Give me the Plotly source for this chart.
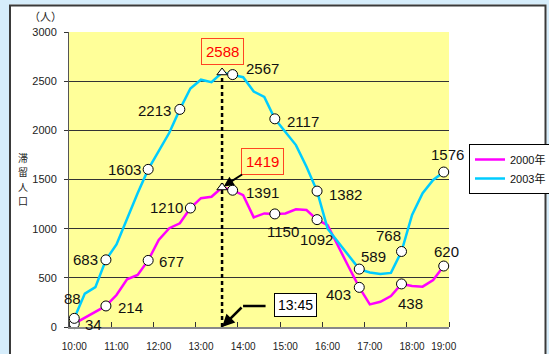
import plotly.graph_objects as go

# ---------------- data ----------------
times = ["10:00", "10:15", "10:30", "10:45", "11:00", "11:15", "11:30", "11:45",
         "12:00", "12:15", "12:30", "12:45", "13:00", "13:15", "13:30", "13:45",
         "14:00", "14:15", "14:30", "14:45", "15:00", "15:15", "15:30", "15:45",
         "16:00", "16:15", "16:30", "16:45", "17:00", "17:15", "17:30", "17:45",
         "18:00", "18:15", "18:30", "18:45"]

pop_2000 = [34, 95, 155, 214, 325, 485, 530, 677,
            885, 1005, 1055, 1210, 1310, 1325, 1419, 1391,
            1340, 1115, 1155, 1150, 1155, 1197, 1190, 1092,
            1035, 830, 610, 403, 230, 257, 315, 438,
            417, 410, 478, 620]

pop_2003 = [88, 340, 405, 683, 840, 1110, 1360, 1603,
            1790, 1975, 2213, 2425, 2515, 2490, 2588, 2567,
            2540, 2395, 2340, 2117, 1985, 1850, 1630, 1382,
            1000, 860, 720, 589, 555, 540, 550, 768,
            1140, 1360, 1495, 1576]

series_names = ["2000年", "2003年"]
tick_labels = ["10:00", "11:00", "12:00", "13:00", "14:00", "15:00",
               "16:00", "17:00", "18:00", "19:00"]
circled_2000 = [0, 3, 7, 11, 15, 19, 23, 27, 31, 35]
circled_2003 = [0, 3, 7, 10, 15, 19, 23, 27, 31, 35]
peak_label = "13:45"
y_title = "滞留人口"
unit_label = "（人）"

# ---------------- styles ----------------
MAGENTA = "#FF00FF"
CYAN = "#00CCFF"
YELLOW = "#FFFF99"
PAGE_BLUE = "#D6EDFB"
NUM_FONT = "Liberation Sans, Arial, sans-serif"
CJK_FONT = "Noto Sans CJK JP, sans-serif"
LEG_FONT = "Liberation Sans, Noto Sans CJK JP, sans-serif"

# label placement (xanchor, xshift, yshift) per circled point
lab_2000 = [("left", 9, -1), ("left", 10, -1.5), ("left", 9, -1.5), ("right", -5, 1),
            ("left", 11, -2.5), ("center", 8, -18), ("center", -1, -20),
            ("right", -6, -7), ("center", 9, -20), ("center", 2.5, 15)]
lab_2003 = [("center", -1.5, 20), ("right", -6, 0), ("right", -5, 0), ("right", -7, -1.5),
            ("left", 11, 6), ("left", 10, -3), ("left", 10, -3),
            ("left", 0, 13), ("right", 1, 16), ("center", 4, 18)]

W, H = 549, 354
L, R, T, B = 69, 100, 32, 27
PW, PH = W - L - R, H - T - B


def px(xp):
    return (xp - L) / PW


def py(yp):
    return (H - B - yp) / PH


x = list(range(len(times)))
peak_i = pop_2003.index(max(pop_2003))

fig = go.Figure()

for name, vals, color in [(series_names[0], pop_2000, MAGENTA), (series_names[1], pop_2003, CYAN)]:
    fig.add_trace(go.Scatter(x=x, y=vals, mode="lines", name=name,
                             line=dict(color=color, width=2.5), hoverinfo="skip"))

# dashed vertical line at peak
fig.add_trace(go.Scatter(x=[x[peak_i], x[peak_i]], y=[0, pop_2003[peak_i]], mode="lines",
                         line=dict(color="black", width=2.5, dash="4px,3px"),
                         showlegend=False, hoverinfo="skip"))

# circle markers
for vals, idxs in [(pop_2000, circled_2000), (pop_2003, circled_2003)]:
    fig.add_trace(go.Scatter(x=[x[i] for i in idxs], y=[vals[i] for i in idxs], mode="markers",
                             marker=dict(symbol="circle", size=10, color="white",
                                         line=dict(color="black", width=1)),
                             showlegend=False, cliponaxis=False, hoverinfo="skip"))

# triangles at peak
fig.add_trace(go.Scatter(x=[x[peak_i], x[peak_i]], y=[pop_2000[peak_i], pop_2003[peak_i]],
                         mode="markers",
                         marker=dict(symbol="triangle-up", size=9, color="white",
                                     line=dict(color="black", width=1)),
                         showlegend=False, cliponaxis=False, hoverinfo="skip"))

annotations = []
for vals, idxs, labs in [(pop_2000, circled_2000, lab_2000), (pop_2003, circled_2003, lab_2003)]:
    for i, (xa, xs, ys) in zip(idxs, labs):
        annotations.append(dict(x=x[i], y=vals[i], text=str(vals[i]), showarrow=False,
                                xanchor=xa, yanchor="middle", xshift=xs, yshift=ys,
                                font=dict(family=NUM_FONT, size=15, color="#111")))

# peak value boxes
annotations.append(dict(x=x[peak_i], y=pop_2003[peak_i], text=str(pop_2003[peak_i]),
                        showarrow=False, yshift=21, bordercolor="#FF4422", borderwidth=1,
                        borderpad=4, font=dict(family=NUM_FONT, size=15, color="#FF0000")))
annotations.append(dict(x=x[peak_i], y=pop_2000[peak_i], text=str(pop_2000[peak_i]),
                        showarrow=True, ax=40, ay=-26, arrowhead=2, arrowsize=1,
                        arrowwidth=2, arrowcolor="black", standoff=2,
                        bordercolor="#FF4422", borderwidth=1, borderpad=4,
                        font=dict(family=NUM_FONT, size=15, color="#FF0000")))
# 13:45 elbow arrow
annotations.append(dict(x=x[peak_i], y=0, text="", showarrow=True, ax=21, ay=-21,
                        arrowhead=2, arrowsize=1, arrowwidth=2.5, arrowcolor="black"))
annotations.append(dict(x=x[peak_i], y=0, text="", showarrow=True, xshift=21, yshift=21,
                        ax=24, ay=0, arrowhead=0, arrowwidth=2.5, arrowcolor="black"))
annotations.append(dict(x=x[peak_i], y=0, text=peak_label, showarrow=False,
                        xshift=73, yshift=22.5, bgcolor="white", bordercolor="black",
                        borderwidth=1, borderpad=3,
                        font=dict(family=NUM_FONT, size=14, color="black")))

# axis texts
annotations.append(dict(xref="paper", yref="paper", x=px(45), y=py(16), text=unit_label,
                        xanchor="center", yanchor="middle",
                        showarrow=False, font=dict(family=CJK_FONT, size=11, color="#222")))
# vertical (stacked) y-axis title, one character per annotation
n_ch = len(y_title)
for k, ch in enumerate(y_title):
    annotations.append(dict(xref="paper", yref="paper", x=px(22.5),
                            y=py(179 + (k - (n_ch - 1) / 2) * 14.5),
                            xanchor="center", yanchor="middle", text=ch, showarrow=False,
                            font=dict(family=CJK_FONT, size=10, color="#222")))

shapes = [
    dict(type="rect", xref="paper", yref="paper", x0=px(-2), x1=px(9), y0=py(-2), y1=py(H + 2),
         fillcolor=PAGE_BLUE, line=dict(width=0), layer="below"),
    dict(type="rect", xref="paper", yref="paper", x0=px(-2), x1=px(W + 2), y0=py(-2), y1=py(4.5),
         fillcolor=PAGE_BLUE, line=dict(width=0), layer="below"),
    dict(type="rect", xref="paper", yref="paper", x0=px(546.5), x1=px(W + 2), y0=py(-2), y1=py(H + 2),
         fillcolor=PAGE_BLUE, line=dict(width=0), layer="below"),
    dict(type="rect", xref="paper", yref="paper", x0=px(10), x1=px(545.5), y0=py(5.5), y1=py(H + 20),
         fillcolor="rgba(0,0,0,0)", line=dict(color="#3a3a3a", width=2), layer="below"),
]

tick_pos = [times.index(t) if t in times else len(times) - 1 for t in tick_labels]

fig.update_layout(
    template="none",
    width=W, height=H,
    margin=dict(l=L, r=R, t=T, b=B, pad=0, autoexpand=False),
    paper_bgcolor="white", plot_bgcolor=YELLOW,
    showlegend=True,
    legend=dict(x=px(469), y=py(144), xanchor="left", yanchor="top",
                bgcolor="white", bordercolor="black", borderwidth=1,
                font=dict(family=LEG_FONT, size=11, color="#111"),
                itemwidth=30, tracegroupgap=0),
    annotations=annotations,
    shapes=shapes,
    xaxis=dict(range=[-0.5, len(times) - 0.5], tickmode="array", tickvals=tick_pos,
               ticktext=tick_labels, ticks="", showgrid=False, zeroline=False,
               showline=True, linecolor="#888", linewidth=2, automargin=False,
               ticklabelstandoff=9,
               tickfont=dict(family=NUM_FONT, size=10, color="#222"),
               minor=dict(tickmode="linear", tick0=-0.5, dtick=4, ticks="inside",
                          ticklen=5, tickcolor="#333", tickwidth=1, showgrid=False)),
    yaxis=dict(range=[0, 3000], dtick=500, ticks="outside", ticklen=4, tickcolor="#333",
               showgrid=True, gridcolor="#333", gridwidth=1, zeroline=False,
               showline=True, linecolor="#555", linewidth=1, ticklabelstandoff=5,
               automargin=False,
               tickfont=dict(family=NUM_FONT, size=11, color="#222")),
    hovermode=False,
)

fig.write_html("out.html")
